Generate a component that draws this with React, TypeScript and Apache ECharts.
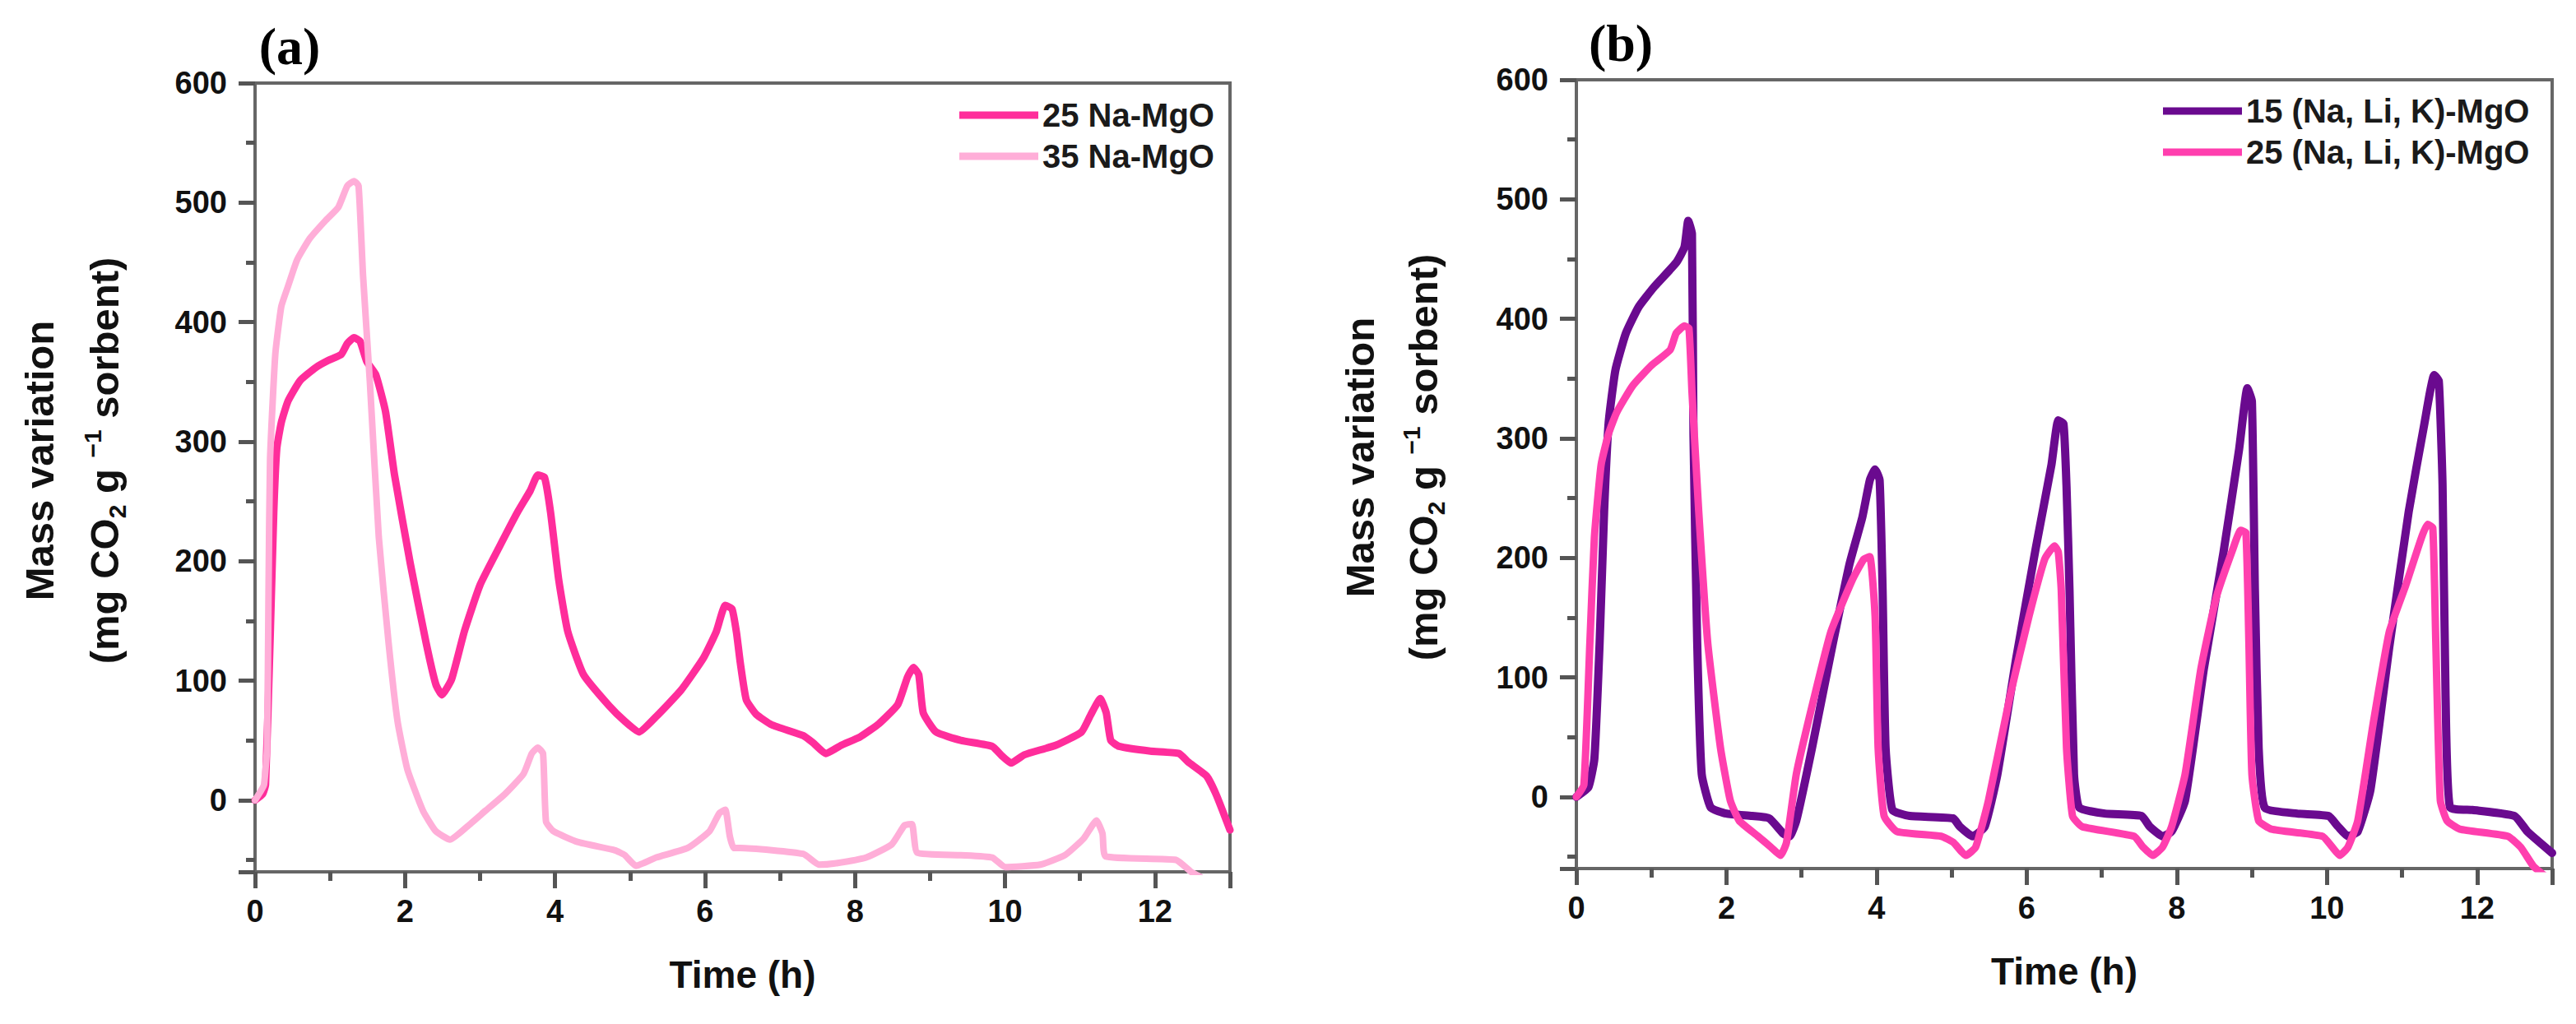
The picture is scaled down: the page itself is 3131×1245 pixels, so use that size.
import { useEffect, useRef } from 'react';
import * as echarts from 'echarts';

type Point = [number, number];

// axis ranges and tick steps (h and mg CO2 / g sorbent)
const xRange = [0, 13];
const xStep = 2;
const yRange = [-60, 600];
const yLabelValues = [0, 100, 200, 300, 400, 500, 600];

const panelLabels = ['(a)', '(b)'];
const xTitle = 'Time (h)';

// (a) 25 Na-MgO
const na25: Point[] = [
  [0, 0], [0.1, 5], [0.14, 13], [0.2, 132], [0.25, 241], [0.29, 294], [0.35, 316], [0.44, 334],
  [0.6, 351], [0.81, 362], [0.98, 368], [1.15, 373], [1.23, 382], [1.32, 387], [1.4, 384],
  [1.49, 367], [1.61, 356], [1.74, 325], [1.86, 272], [2.07, 198], [2.28, 132], [2.41, 97],
  [2.49, 88], [2.62, 101], [2.79, 141], [3.0, 180], [3.25, 211], [3.5, 241], [3.67, 259],
  [3.77, 272], [3.86, 270], [3.94, 241], [4.05, 184], [4.17, 141], [4.38, 105], [4.72, 79],
  [4.93, 66], [5.12, 57], [5.35, 70], [5.68, 92], [5.98, 119], [6.15, 141], [6.27, 163],
  [6.36, 160], [6.42, 140], [6.47, 115], [6.55, 84], [6.68, 72], [6.89, 63], [7.31, 54],
  [7.44, 48], [7.61, 39], [7.82, 46], [8.07, 53], [8.32, 64], [8.57, 80], [8.7, 103],
  [8.78, 111], [8.85, 105], [8.91, 73], [9.08, 57], [9.41, 50], [9.83, 45], [9.96, 37],
  [10.08, 31], [10.26, 38], [10.68, 46], [11.02, 57], [11.14, 71], [11.27, 85], [11.35, 73],
  [11.41, 50], [11.52, 45], [11.94, 41], [12.32, 39], [12.44, 32], [12.69, 20], [12.82, 4],
  [13, -25],
];

// (a) 35 Na-MgO
const na35: Point[] = [
  [0, 0], [0.08, 8], [0.12, 13], [0.16, 44], [0.18, 176], [0.2, 285], [0.27, 373], [0.35, 413],
  [0.44, 430], [0.56, 452], [0.73, 470], [0.94, 485], [1.11, 496], [1.23, 514], [1.32, 518],
  [1.38, 514], [1.44, 439], [1.53, 351], [1.65, 220], [1.78, 132], [1.9, 66], [2.03, 26],
  [2.24, -9], [2.41, -26], [2.6, -33], [2.83, -22], [3.07, -9], [3.33, 5], [3.58, 22],
  [3.69, 39], [3.77, 44], [3.84, 39], [3.88, -18], [3.98, -26], [4.3, -35], [4.8, -42],
  [4.93, -46], [5.08, -55], [5.35, -48], [5.77, -40], [6.06, -26], [6.19, -11], [6.27, -8],
  [6.33, -30], [6.38, -40], [6.47, -40], [7.31, -45], [7.52, -54], [7.73, -53], [8.15, -48],
  [8.49, -37], [8.66, -21], [8.76, -20], [8.83, -44], [9.41, -46], [9.83, -48], [10.0, -56],
  [10.47, -54], [10.8, -46], [11.05, -32], [11.22, -17], [11.3, -28], [11.34, -47],
  [12.28, -50], [12.48, -60], [12.6, -64],
];

// (b) 15 (Na, Li, K)-MgO
const nlk15: Point[] = [
  [0, 0], [0.16, 8], [0.24, 32], [0.31, 129], [0.37, 239], [0.43, 313], [0.52, 357], [0.66, 388],
  [0.83, 410], [1.04, 427], [1.33, 447], [1.44, 460], [1.49, 482], [1.54, 471], [1.56, 304],
  [1.61, 129], [1.67, 19], [1.79, -9], [2.0, -14], [2.34, -16], [2.57, -18], [2.76, -31],
  [2.84, -33], [2.93, -20], [3.14, 41], [3.39, 120], [3.64, 195], [3.81, 234], [3.91, 265],
  [3.98, 274], [4.04, 265], [4.08, 173], [4.12, 41], [4.21, -11], [4.44, -16], [5.02, -18],
  [5.11, -25], [5.28, -33], [5.44, -25], [5.61, 19], [5.86, 116], [6.12, 208], [6.33, 278],
  [6.42, 315], [6.49, 312], [6.53, 260], [6.57, 173], [6.63, 19], [6.7, -9], [7.04, -14],
  [7.53, -16], [7.64, -25], [7.81, -33], [7.93, -29], [8.11, -3], [8.36, 107], [8.62, 204],
  [8.83, 291], [8.94, 342], [9.0, 331], [9.04, 173], [9.09, 41], [9.17, -9], [9.6, -14],
  [10.02, -16], [10.15, -25], [10.28, -33], [10.41, -29], [10.58, 6], [10.83, 125],
  [11.09, 239], [11.3, 313], [11.43, 353], [11.49, 348], [11.54, 261], [11.58, 85],
  [11.64, -9], [11.94, -11], [12.5, -16], [12.67, -29], [13, -47],
];

// (b) 25 (Na, Li, K)-MgO
const nlk25: Point[] = [
  [0, 0], [0.1, 10], [0.18, 129], [0.24, 217], [0.33, 278], [0.43, 304], [0.54, 322], [0.75, 344],
  [1.0, 361], [1.25, 374], [1.33, 388], [1.44, 394], [1.5, 392], [1.54, 339], [1.63, 239],
  [1.75, 129], [1.92, 41], [2.05, -3], [2.17, -20], [2.42, -33], [2.59, -42], [2.72, -49],
  [2.8, -38], [2.93, 19], [3.14, 76], [3.39, 138], [3.68, 182], [3.83, 199], [3.91, 201],
  [3.98, 151], [4.02, 41], [4.1, -16], [4.27, -29], [4.86, -33], [5.02, -38], [5.19, -49],
  [5.32, -42], [5.49, -3], [5.78, 85], [6.03, 151], [6.24, 199], [6.37, 210], [6.42, 205],
  [6.46, 173], [6.53, 41], [6.61, -16], [6.74, -25], [7.43, -33], [7.55, -42], [7.68, -49],
  [7.81, -42], [7.93, -25], [8.11, 19], [8.32, 107], [8.53, 168], [8.75, 208], [8.85, 223],
  [8.92, 221], [8.96, 129], [9.0, 19], [9.09, -20], [9.26, -27], [9.94, -33], [10.07, -42],
  [10.17, -49], [10.28, -42], [10.41, -20], [10.62, 63], [10.83, 138], [11.05, 177],
  [11.26, 217], [11.34, 228], [11.41, 225], [11.45, 129], [11.51, -3], [11.6, -20],
  [11.77, -27], [12.41, -33], [12.58, -42], [12.75, -58], [12.9, -66],
];

const SANS = "'Liberation Sans', Arial, sans-serif";
const SERIF = "'Liberation Serif', 'Times New Roman', serif";
const AXIS_COLOR = '#666666';

const panels = [
  { left: 310, top: 101, width: 1185, height: 959 },
  { left: 1916, top: 97, width: 1186, height: 959 },
];

const tickLabel = {
  fontSize: 38,
  fontWeight: 'bold',
  color: '#111',
  fontFamily: SANS,
};

const majorTick = { show: true, length: 20, lineStyle: { color: '#555555', width: 5 } };
const minorTick = { show: true, splitNumber: 2, length: 11, lineStyle: { color: '#555555', width: 5 } };

function xAxis(gridIndex: number) {
  return {
    type: 'value',
    gridIndex,
    min: xRange[0],
    max: xRange[1],
    interval: xStep,
    position: 'bottom',
    name: xTitle,
    nameLocation: 'middle',
    nameGap: 102,
    nameTextStyle: { fontSize: 46, fontWeight: 'bold', color: '#111', fontFamily: SANS },
    axisLine: { show: true, onZero: false, lineStyle: { color: AXIS_COLOR, width: 4 } },
    axisTick: majorTick,
    minorTick,
    axisLabel: { ...tickLabel, margin: 29, showMaxLabel: false },
    splitLine: { show: false },
  };
}

function yAxis(gridIndex: number) {
  return {
    type: 'value',
    gridIndex,
    min: yRange[0],
    max: yRange[1],
    splitNumber: 6,
    position: 'left',
    axisLine: { show: true, onZero: false, lineStyle: { color: AXIS_COLOR, width: 4 } },
    axisTick: majorTick,
    minorTick,
    axisLabel: {
      ...tickLabel,
      margin: 34,
      showMinLabel: false,
      formatter: (v: number) => (yLabelValues.includes(v) ? String(v) : ''),
    },
    splitLine: { show: false },
  };
}

function lineSeries(name: string, data: Point[], color: string, width: number, panel: number, z: number) {
  return {
    name,
    type: 'line',
    xAxisIndex: panel,
    yAxisIndex: panel,
    data,
    symbol: 'none',
    showSymbol: false,
    smooth: 0.15,
    clip: true,
    z,
    itemStyle: { color },
    lineStyle: { color, width, join: 'round', cap: 'round' },
  };
}

function legend(left: number, top: number, names: string[]) {
  return {
    orient: 'vertical',
    left,
    top,
    padding: 0,
    itemGap: 6,
    itemWidth: 96,
    itemHeight: 9,
    icon: 'rect',
    data: names,
    selectedMode: false,
    textStyle: {
      fontSize: 40,
      fontWeight: 'bold',
      color: '#1a1a1a',
      fontFamily: SANS,
      lineHeight: 44,
    },
  };
}

const titleRich = {
  m: { fontSize: 49, fontWeight: 'bold', fontFamily: SANS, fill: '#111', lineHeight: 60 },
  sub: { fontSize: 30, fontWeight: 'bold', fontFamily: SANS, fill: '#111', lineHeight: 30, verticalAlign: 'bottom' },
  sup: { fontSize: 30, fontWeight: 'bold', fontFamily: SANS, fill: '#111', lineHeight: 30, verticalAlign: 'top' },
};

function yTitle(x1: number, x2: number, y: number) {
  return [
    {
      type: 'text',
      x: x1,
      y,
      rotation: Math.PI / 2,
      style: {
        text: 'Mass variation',
        fontSize: 49,
        fontWeight: 'bold',
        fontFamily: SANS,
        fill: '#111',
        align: 'center',
        verticalAlign: 'middle',
      },
    },
    {
      type: 'text',
      x: x2,
      y,
      rotation: Math.PI / 2,
      style: {
        text: '{m|(mg CO}{sub|2}{m| g }{sup|−1}{m| sorbent)}',
        rich: titleRich,
        align: 'center',
        verticalAlign: 'middle',
      },
    },
  ];
}

function panelLabel(text: string, x: number, y: number) {
  return {
    type: 'text',
    x,
    y,
    style: {
      text,
      fontSize: 64,
      fontWeight: 'bold',
      fontFamily: SERIF,
      fill: '#000',
      align: 'center',
      verticalAlign: 'middle',
    },
  };
}

export default function App() {
  const ref = useRef<HTMLDivElement | null>(null);

  useEffect(() => {
    if (!ref.current) return;
    const chart = echarts.init(ref.current, undefined, { renderer: 'svg' });

    chart.setOption({
      animation: false,
      backgroundColor: '#ffffff',
      grid: panels.map((p) => ({
        ...p,
        show: true,
        borderColor: AXIS_COLOR,
        borderWidth: 4,
        backgroundColor: 'transparent',
        containLabel: false,
      })),
      xAxis: [xAxis(0), xAxis(1)],
      yAxis: [yAxis(0), yAxis(1)],
      legend: [
        legend(1166, 118, ['25 Na-MgO', '35 Na-MgO']),
        legend(2629, 113, ['15 (Na, Li, K)-MgO', '25 (Na, Li, K)-MgO']),
      ],
      series: [
        lineSeries('25 Na-MgO', na25, '#ff2d9b', 9, 0, 2),
        lineSeries('35 Na-MgO', na35, '#ffaed8', 8, 0, 3),
        lineSeries('15 (Na, Li, K)-MgO', nlk15, '#6a0a8f', 10, 1, 2),
        lineSeries('25 (Na, Li, K)-MgO', nlk25, '#ff3fae', 9, 1, 3),
      ],
      graphic: [
        panelLabel(panelLabels[0], 352, 56),
        panelLabel(panelLabels[1], 1970, 52),
        ...yTitle(48, 127, 560),
        ...yTitle(1653, 1730, 556),
      ],
    });

    return () => chart.dispose();
  }, []);

  return (
    <div
      ref={ref}
      style={{ position: 'fixed', left: 0, top: 0, width: 3131, height: 1245, background: '#fff' }}
    />
  );
}
